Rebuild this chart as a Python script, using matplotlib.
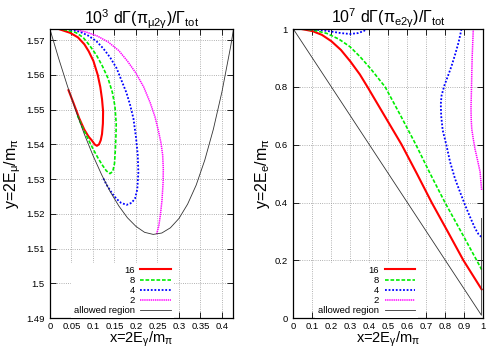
import matplotlib
matplotlib.use("Agg")
import matplotlib.pyplot as plt

plt.rcParams['font.family'] = ['Liberation Sans', 'DejaVu Sans']
plt.rcParams['mathtext.default'] = 'regular'

# ---------------- left panel: pi -> mu nu gamma ----------------
mu16_x = [0.043, 0.055, 0.068, 0.080, 0.090, 0.097, 0.104, 0.109, 0.114, 0.118, 0.121, 0.123, 0.1235,
          0.121, 0.117, 0.111, 0.101, 0.090, 0.080, 0.065, 0.047, 0.023]
mu16_y = [1.5556, 1.5518, 1.5475, 1.5442, 1.5422, 1.5412, 1.5400, 1.5396, 1.5400, 1.5412, 1.5430, 1.5460, 1.5495,
          1.5530, 1.5565, 1.5600, 1.5640, 1.5668, 1.5688, 1.5708, 1.5721, 1.5731]
mu8_x = [0.064, 0.075, 0.090, 0.101, 0.112, 0.122, 0.131, 0.1395, 0.146, 0.150, 0.152, 0.1535, 0.154,
         0.151, 0.145, 0.135, 0.122, 0.108, 0.092, 0.077, 0.060, 0.031]
mu8_y = [1.5483, 1.5450, 1.5412, 1.5385, 1.5360, 1.5340, 1.5324, 1.5316, 1.5322, 1.5345, 1.5385, 1.5430, 1.5460,
         1.5510, 1.5550, 1.5590, 1.5625, 1.5657, 1.5685, 1.5708, 1.5722, 1.5731]
mu4_x = [0.124, 0.132, 0.145, 0.155, 0.165, 0.178, 0.190, 0.198, 0.203, 0.2055, 0.204, 0.200, 0.194,
         0.186, 0.178, 0.166, 0.155, 0.140, 0.124, 0.108, 0.089, 0.070, 0.0465]
mu4_y = [1.5302, 1.5283, 1.5258, 1.5243, 1.5232, 1.5226, 1.5232, 1.5245, 1.5271, 1.5320, 1.5370, 1.5420, 1.5475,
         1.5515, 1.5548, 1.5585, 1.5619, 1.5650, 1.5676, 1.5697, 1.5713, 1.5724, 1.5731]
mu2_x = [0.248, 0.253, 0.257, 0.2605, 0.263, 0.2635, 0.262, 0.258, 0.252, 0.244, 0.233, 0.218, 0.200,
         0.180, 0.160, 0.135, 0.110, 0.085, 0.058]
mu2_y = [1.5142, 1.5165, 1.5200, 1.5240, 1.5290, 1.5330, 1.5370, 1.5405, 1.5440, 1.5480, 1.5520, 1.5565, 1.5605,
         1.5640, 1.5670, 1.5695, 1.5712, 1.5723, 1.5731]
mu_bound_x = [0.0, 0.02, 0.04, 0.06, 0.08, 0.10, 0.12, 0.14, 0.16, 0.18, 0.20, 0.22, 0.24,
              0.26, 0.28, 0.30, 0.32, 0.34, 0.36, 0.38, 0.40, 0.42, 0.427]
mu_bound_y = [1.5731, 1.5648, 1.5570, 1.5497, 1.5429, 1.5368, 1.5313, 1.5264, 1.5223, 1.5189, 1.5164, 1.5147, 1.5141,
              1.5145, 1.5160, 1.5187, 1.5228, 1.5283, 1.5355, 1.5444, 1.5552, 1.5681, 1.5733]
mu_xticks = [0, 0.05, 0.1, 0.15, 0.2, 0.25, 0.3, 0.35, 0.4]
mu_xticklabels = ['0', '0.05', '0.1', '0.15', '0.2', '0.25', '0.3', '0.35', '0.4']
mu_yticks = [1.49, 1.50, 1.51, 1.52, 1.53, 1.54, 1.55, 1.56, 1.57]
mu_yticklabels = ['1.49', '1.5', '1.51', '1.52', '1.53', '1.54', '1.55', '1.56', '1.57']

# ---------------- right panel: pi -> e nu gamma ----------------
e16_x = [0.044, 0.10, 0.15, 0.20, 0.25, 0.30, 0.35, 0.39, 0.48, 0.57, 0.65, 0.728, 0.812, 0.895, 0.991]
e16_y = [1.0, 0.993, 0.980, 0.958, 0.928, 0.888, 0.843, 0.800, 0.700, 0.600, 0.500, 0.400, 0.300, 0.200, 0.0995]
e8_x = [0.05, 0.10, 0.176, 0.240, 0.298, 0.350, 0.404, 0.483, 0.565, 0.645, 0.720, 0.798, 0.882, 0.965, 0.991]
e8_y = [1.0, 0.997, 0.985, 0.965, 0.939, 0.905, 0.865, 0.800, 0.700, 0.600, 0.500, 0.400, 0.300, 0.200, 0.168]
e4a_x = [0.05, 0.10, 0.15, 0.193, 0.25, 0.298, 0.34, 0.37, 0.386]
e4a_y = [1.0, 0.999, 0.996, 0.992, 0.986, 0.983, 0.986, 0.993, 1.0]
e4b_x = [0.885, 0.870, 0.851, 0.832, 0.816, 0.795, 0.780, 0.776, 0.778, 0.786, 0.805, 0.825, 0.851,
         0.878, 0.904, 0.930, 0.956, 0.975, 0.991]
e4b_y = [1.0, 0.955, 0.911, 0.871, 0.842, 0.805, 0.770, 0.740, 0.700, 0.650, 0.600, 0.540, 0.482,
         0.435, 0.391, 0.350, 0.311, 0.290, 0.280]
e2a_x = [0.155, 0.180, 0.205]
e2a_y = [1.0, 0.998, 1.0]
e2b_x = [0.947, 0.944, 0.941, 0.939, 0.937, 0.935, 0.936, 0.939, 0.947, 0.956, 0.970, 0.983, 0.991]
e2b_y = [1.0, 0.95, 0.90, 0.842, 0.78, 0.728, 0.69, 0.654, 0.62, 0.585, 0.545, 0.505, 0.442]
e_bound_x = [0.0, 0.5, 0.99, 0.99]
e_bound_y = [1.0, 0.5, 0.01, 0.345]
e_xticks = [0, 0.1, 0.2, 0.3, 0.4, 0.5, 0.6, 0.7, 0.8, 0.9, 1.0]
e_xticklabels = ['0', '0.1', '0.2', '0.3', '0.4', '0.5', '0.6', '0.7', '0.8', '0.9', '1']
e_yticks = [0, 0.2, 0.4, 0.6, 0.8, 1.0]
e_yticklabels = ['0', '0.2', '0.4', '0.6', '0.8', '1']

legend_labels = ['16', '8', '4', '2', 'allowed region']

styles = [
    dict(color='#ff0000', lw=1.5, ls='-'),
    dict(color='#00ee00', lw=1.2, ls=(0, (2.2, 1.1))),
    dict(color='#0000ff', lw=1.3, ls=(0, (1.0, 1.0))),
    dict(color='#ff00ff', lw=1.1, ls=(0, (0.9, 0.5))),
]
bstyle = dict(color='#333333', lw=0.6, ls='-')

fig = plt.figure(figsize=(5, 3.5), dpi=100)
axL = fig.add_axes([0.100, 0.091, 0.366, 0.825])
axR = fig.add_axes([0.5867, 0.091, 0.380, 0.826])


def style_axes(ax):
    ax.grid(True, ls=':', color='#999999', lw=0.6)
    ax.set_axisbelow(True)
    ax.tick_params(direction='in', length=4, width=0.6, top=True, right=True,
                   labelsize=6.8, pad=4)
    ax.tick_params(axis='x', pad=2.5)
    for s in ax.spines.values():
        s.set_linewidth(0.9)


# left
hL = []
for (xs, ys), st in zip([(mu16_x, mu16_y), (mu8_x, mu8_y), (mu4_x, mu4_y), (mu2_x, mu2_y)], styles):
    h, = axL.plot(xs, ys, **st)
    hL.append(h)
h, = axL.plot(mu_bound_x, mu_bound_y, **bstyle)
hL.append(h)
axL.set_xlim(0, 0.4256)
axL.set_ylim(1.49, 1.5731)
axL.set_xticks(mu_xticks)
axL.set_xticklabels(mu_xticklabels)
axL.set_yticks(mu_yticks)
axL.set_yticklabels(mu_yticklabels)
style_axes(axL)
axL.set_title('10$^{3}$ dΓ(π$_{μ2γ}$)/Γ$_{tot}$', fontsize=11.5, pad=4)
axL.set_xlabel('x=2E$_{γ}$/m$_{π}$', fontsize=10.5, labelpad=-1)
axL.set_ylabel('y=2E$_{μ}$/m$_{π}$', fontsize=11.5, labelpad=2)

# right
hR = []
for grp, st in zip([[(e16_x, e16_y)], [(e8_x, e8_y)], [(e4a_x, e4a_y), (e4b_x, e4b_y)],
                    [(e2a_x, e2a_y), (e2b_x, e2b_y)]], styles):
    for i, (xs, ys) in enumerate(grp):
        h, = axR.plot(xs, ys, **st)
        if i == 0:
            hR.append(h)
h, = axR.plot(e_bound_x, e_bound_y, **bstyle)
hR.append(h)
axR.set_xlim(0, 1)
axR.set_ylim(0, 1)
axR.set_xticks(e_xticks)
axR.set_xticklabels(e_xticklabels)
axR.set_yticks(e_yticks)
axR.set_yticklabels(e_yticklabels)
style_axes(axR)
axR.set_title('10$^{7}$ dΓ(π$_{e2γ}$)/Γ$_{tot}$', fontsize=11.5, pad=4)
axR.set_xlabel('x=2E$_{γ}$/m$_{π}$', fontsize=10.5, labelpad=-1)
axR.set_ylabel('y=2E$_{e}$/m$_{π}$', fontsize=11.5, labelpad=2)

leg_kw = dict(loc='lower right', markerfirst=False, frameon=True, fancybox=False,
              framealpha=1, facecolor='white', edgecolor='none', fontsize=6.8,
              handlelength=3.2, handletextpad=0.6, labelspacing=0.12,
              borderpad=0.3, borderaxespad=0)
legL = axL.legend(hL, legend_labels, bbox_to_anchor=(0.675, 0.0), **leg_kw)
legR = axR.legend(hR, legend_labels, bbox_to_anchor=(0.655, 0.0), **leg_kw)

fig.savefig('out.png', dpi=100)
